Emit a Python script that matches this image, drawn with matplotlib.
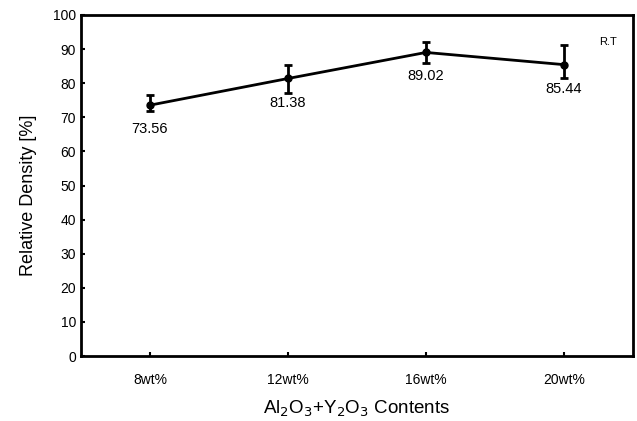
import matplotlib
matplotlib.use("Agg")
import matplotlib.pyplot as plt

plt.rcParams['font.family'] = ['Liberation Sans', 'DejaVu Sans']

categories = ['8wt%', '12wt%', '16wt%', '20wt%']
density = [73.56, 81.38, 89.02, 85.44]
err_low = [1.8, 4.2, 3.0, 4.0]
err_high = [3.1, 4.0, 3.0, 5.8]

fig = plt.figure(figsize=(6.37, 4.21), dpi=100)
ax = fig.add_axes([81 / 637, 1 - 356 / 421, (633 - 81) / 637, (356 - 15) / 421])

x = list(range(len(categories)))
ax.errorbar(x, density, yerr=[err_low, err_high], color='black', linewidth=2,
            marker='o', markersize=5, capsize=3, elinewidth=2, capthick=2)

for xi, v in zip(x, density):
    ax.text(xi, v - 5.0, f"{v:.2f}", ha='center', va='top', fontsize=10.5)

ax.text(0.97, 0.92, 'R.T', transform=ax.transAxes, ha='right', va='center', fontsize=8)

ax.set_xlim(-0.5, 3.5)
ax.set_ylim(0, 100)
ax.set_yticks(range(0, 101, 10))
ax.set_xticks(x)
ax.set_xticklabels(categories)
ax.tick_params(direction='in', length=3, width=1.5, labelsize=10)
ax.tick_params(axis='x', pad=12)
for s in ax.spines.values():
    s.set_linewidth(2)

ax.set_ylabel('Relative Density [%]', fontsize=13)
ax.yaxis.set_label_coords(-0.08, 0.47)
ax.set_xlabel('Al$_2$O$_3$+Y$_2$O$_3$ Contents', fontsize=13.5, labelpad=9)

fig.savefig('out.png', dpi=100)
